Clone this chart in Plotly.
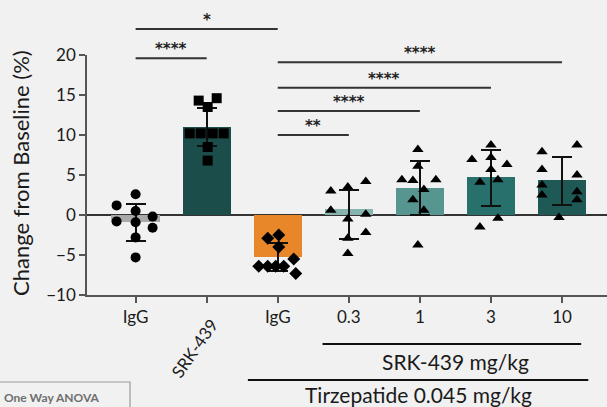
import plotly.graph_objects as go

# ---------------- data ----------------
categories = ["IgG", "SRK-439", "IgG", "0.3", "1", "3", "10"]
means = [-0.9, 11.0, -5.3, 0.7, 3.4, 4.7, 4.4]
err_plus = [2.3, 2.4, 1.8, 2.4, 3.4, 3.4, 2.9]
err_minus = [2.3, 2.4, 1.7, 3.7, 3.4, 3.6, 3.1]

points_igg = [2.6, 1.2, 0.5, -0.8, -0.9, -0.2, -1.6, -2.8, -5.3]
points_srk = [14.3, 13.5, 14.6, 10.2, 10.2, 10.2, 10.2, 8.5, 6.8]
points_tirz_igg = [-2.9, -2.5, -4.0, -6.4, -6.4, -6.4, -6.4, -5.5, -7.3]
points_03 = [3.0, 3.5, 4.2, 0.6, 0.1, -0.5, -2.2, -2.9, -4.8]
points_1 = [8.2, 6.1, 4.4, 4.3, 4.4, 3.2, 1.9, 0.6, -3.75]
points_3 = [8.75, 7.2, 6.95, 6.3, 5.7, 4.1, 4.4, -0.4, -1.5]
points_10 = [7.9, 8.75, 5.7, 5.0, 3.75, 2.5, 2.9, 1.9, -0.3]

# significance brackets: (from group, to group, height, label)
sig_from = [0, 0, 2, 2, 2, 2]
sig_to = [2, 1, 6, 5, 4, 3]
sig_level = [23.25, 19.6, 19.1, 15.9, 13.0, 10.0]
sig_label = ["*", "****", "****", "****", "****", "**"]

y_title = "Change from Baseline (%)"
group_labels = ["SRK-439 mg/kg", "Tirzepatide 0.045 mg/kg"]
stats_note = "One Way ANOVA"

# ---------------- styling ----------------
all_points = [points_igg, points_srk, points_tirz_igg, points_03, points_1, points_3, points_10]
jitter_px = [
    [0, -19, 0, -19, 0, 17, 17, 0, 0],
    [-8, 1, 10, -17, -6, 6, 17, 1, 1],
    [-10, 1, 1, -19, -10, -2, 6, 16, 18],
    [-18, -1, 17, -18, 17, -1, 17, -1, -1],
    [-2, -2, -18, -7, 16, 4, -7, 4, -2],
    [0, 0, -19, 16, 0, -11, 7, 7, -11],
    [-20, 15, -20, 15, -20, -20, 15, 15, -3],
]
symbols = ["circle", "square", "diamond", "triangle-up", "triangle-up", "triangle-up", "triangle-up"]
bar_colors = ["#a9a9a9", "#1b4e4a", "#e8862a", "#86b5b0", "#579590", "#27706b", "#1f5955"]

W, H = 607, 407
ML, MT, MR, MB = 87, 55, 0, 112
PW, PH = W - ML - MR, H - MT - MB
YMIN, YMAX = -10, 20
XMIN, XMAX = -0.684, 6.633
PX_PER_CAT = PW / (XMAX - XMIN)
FONT = "Lato, 'Open Sans', sans-serif"
STAR_FONT = "'DejaVu Sans', sans-serif"


def ypaper(v):
    return (v - YMIN) / (YMAX - YMIN)


def px_to_paper_x(px):
    return (px - ML) / PW


def px_to_paper_y(py):
    return (MT + PH - py) / PH


x_idx = list(range(len(categories)))

fig = go.Figure()
fig.add_trace(go.Bar(
    x=x_idx, y=means, width=0.68,
    marker=dict(color=bar_colors, line=dict(width=0)),
    error_y=dict(type="data", symmetric=False, array=err_plus, arrayminus=err_minus,
                 color="#111111", thickness=1.8, width=10),
    showlegend=False,
))

for i, pts in enumerate(all_points):
    xs = [i + j / PX_PER_CAT for j in jitter_px[i]]
    fig.add_trace(go.Scatter(
        x=xs, y=pts, mode="markers",
        marker=dict(symbol=symbols[i], size=10,
                    color="#000000", line=dict(width=0)),
        cliponaxis=False, showlegend=False,
    ))

shapes = []
annotations = []
for a, b, lv, lab in zip(sig_from, sig_to, sig_level, sig_label):
    shapes.append(dict(type="line", xref="x", yref="paper", x0=a, x1=b,
                       y0=ypaper(lv), y1=ypaper(lv), line=dict(color="#333333", width=2)))
    annotations.append(dict(xref="x", yref="paper", x=(a + b) / 2, y=ypaper(lv),
                            text="<b>" + lab + "</b>", showarrow=False, yanchor="bottom",
                            yshift=-2, font=dict(family=STAR_FONT, size=15, color="#222222")))

# rotated tick label
annotations.append(dict(xref="x", yref="paper", x=1, y=0, text=categories[1], textangle=-55,
                        showarrow=False, xanchor="right", yanchor="top", xshift=18, yshift=-17,
                        font=dict(family=FONT, size=17, color="#1a1a1a")))

# y-axis title
annotations.append(dict(xref="paper", yref="paper", x=px_to_paper_x(20), y=px_to_paper_y(173),
                        text=y_title, textangle=-90, showarrow=False,
                        xanchor="center", yanchor="middle",
                        font=dict(family=FONT, size=22, color="#1a1a1a")))

# group lines under the axis
group_from = [3, 2]
group_to = [6, 6]
group_ext_left = [0.37, 0.42]
group_ext_right = [0.27, 0.37]
group_line_py = [344, 380]
group_text_py = [361, 394]
group_text_center = [455, 418]
for k in range(2):
    shapes.append(dict(type="line", xref="x", yref="paper",
                       x0=group_from[k] - group_ext_left[k], x1=group_to[k] + group_ext_right[k],
                       y0=px_to_paper_y(group_line_py[k]), y1=px_to_paper_y(group_line_py[k]),
                       line=dict(color="#111111", width=1.8)))
    annotations.append(dict(xref="paper", yref="paper", x=px_to_paper_x(group_text_center[k]),
                            y=px_to_paper_y(group_text_py[k]), text=group_labels[k],
                            showarrow=False, xanchor="center", yanchor="middle",
                            font=dict(family=FONT, size=21, color="#1a1a1a")))

# "One Way ANOVA" box (partly outside the page, as in the source)
shapes.append(dict(type="rect", xref="paper", yref="paper",
                   x0=px_to_paper_x(-10), x1=px_to_paper_x(130),
                   y0=px_to_paper_y(420), y1=px_to_paper_y(382),
                   line=dict(color="#9a9a9a", width=1.2), fillcolor="rgba(0,0,0,0)"))
annotations.append(dict(xref="paper", yref="paper", x=px_to_paper_x(2), y=px_to_paper_y(397),
                        text="<b>" + stats_note + "</b>", showarrow=False, xanchor="left",
                        yanchor="middle", font=dict(family=FONT, size=12, color="#6e6e6e")))

fig.update_layout(
    width=W, height=H,
    margin=dict(l=ML, r=MR, t=MT, b=MB, pad=0),
    paper_bgcolor="#f1f1f1", plot_bgcolor="#f1f1f1",
    font=dict(family=FONT, size=17, color="#1a1a1a"),
    bargap=0,
    shapes=shapes, annotations=annotations,
    xaxis=dict(range=[XMIN, XMAX], tickmode="array", tickvals=x_idx,
               ticktext=[c if i != 1 else "" for i, c in enumerate(categories)],
               showline=True, linecolor="#555555", linewidth=1.5,
               ticks="outside", ticklen=6, tickwidth=1.5, tickcolor="#555555",
               showgrid=False, zeroline=False, tickfont=dict(size=17)),
    yaxis=dict(range=[YMIN, YMAX], tickvals=[-10, -5, 0, 5, 10, 15, 20],
               showline=True, linecolor="#555555", linewidth=1.5,
               ticks="outside", ticklen=6, tickwidth=1.5, tickcolor="#555555",
               showgrid=False, zeroline=True, zerolinecolor="#333333", zerolinewidth=1.8,
               tickfont=dict(size=17)),
)

fig.write_html("out.html", config={"displayModeBar": False},
               post_script="document.body.style.margin='0';document.body.style.background='#f1f1f1';")
